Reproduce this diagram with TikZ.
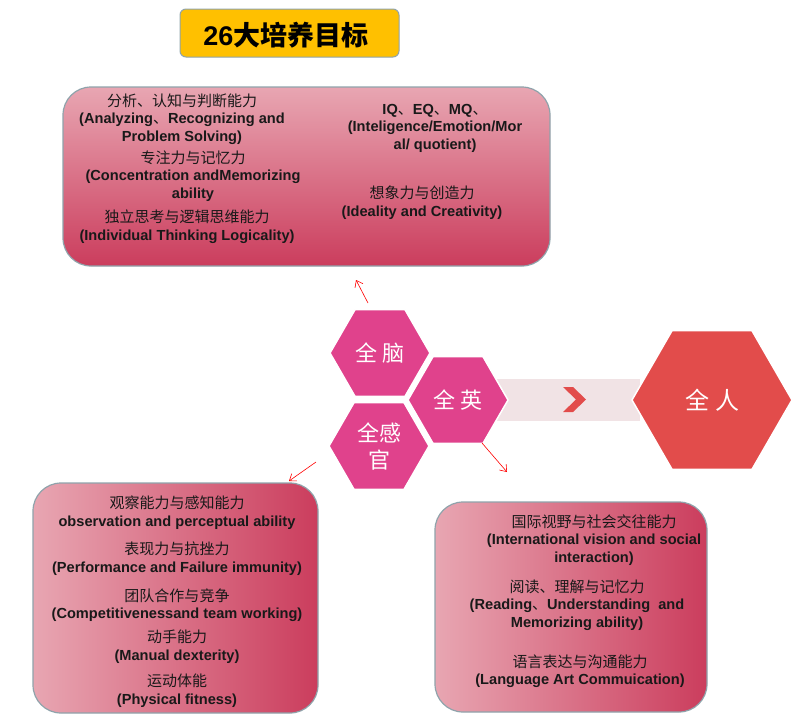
\documentclass[tikz,border=0pt]{standalone}
\usepackage{fontspec}
\setmainfont{Liberation Sans}
\newfontfamily\cjk{Noto Sans CJK SC}
\usetikzlibrary{shapes.geometric,arrows.meta}
\definecolor{hexpink}{HTML}{E0428C}
\definecolor{hexred}{HTML}{E24C4B}
\definecolor{bandpink}{HTML}{F1E3E5}
\definecolor{boxline}{HTML}{8FA3AB}
\definecolor{boxlight}{HTML}{E8A6B2}
\definecolor{boxdark}{HTML}{CB3D5D}
\definecolor{titleyellow}{HTML}{FFC000}
\newcommand\zh[1]{{\cjk\mdseries\fontsize{15}{17.5}\selectfont #1}}
\tikzset{
  goalbox/.style={draw=boxline, line width=1.2pt, rounded corners=28pt},
  goaltext/.style={align=center, inner sep=0pt, text=black!90,
    font=\bfseries\fontsize{14.6}{17.5}\selectfont},
  hexnode/.style={regular polygon, regular polygon sides=6, fill=hexpink,
    draw=white, line width=1.5pt, minimum size=100pt, inner sep=0pt,
    text=white, align=center, font=\cjk\fontsize{22}{27}\selectfont},
  linkarrow/.style={draw=red, line width=0.6pt, -{Straight Barb[length=6pt,width=9pt]}}
}
\begin{document}
\begin{tikzpicture}[x=1pt,y=-1pt]
  %%%%% START %%%%%
  \useasboundingbox (0,0) rectangle (798,721);

  % title
  \draw[fill=titleyellow, draw=boxline, line width=1pt, rounded corners=6pt] (180,9) rectangle (399,57);
  \node (title) at (286,35) {\fontsize{27}{30}\selectfont\bfseries 26{\cjk\bfseries 大培养目标}};

  % top box
  \draw[goalbox, top color=boxlight, bottom color=boxdark] (63,87) rectangle (550,266);
  \node[goaltext] (analyse) at (182,119) {\zh{分析、认知与判断能力}\\(Analyzing\zh{、}Recognizing and\\Problem Solving)};
  \node[goaltext] (focus) at (193,176) {\zh{专注力与记忆力}\\(Concentration andMemorizing\\ability};
  \node[goaltext] (think) at (187,226.5) {\zh{独立思考与逻辑思维能力}\\(Individual Thinking Logicality)};
  \node[goaltext] (quotient) at (435,128) {IQ\zh{、}EQ\zh{、}MQ\zh{、}\\(Inteligence/Emotion/Mor\\al/ quotient)};
  \node[goaltext] (create) at (422,202.5) {\zh{想象力与创造力}\\(Ideality and Creativity)};

  % bottom left box
  \draw[goalbox, left color=boxlight, right color=boxdark] (33,483) rectangle (318,713);
  \node[goaltext] (observe) at (177,512.5) {\zh{观察能力与感知能力}\\observation and perceptual ability};
  \node[goaltext] (perform) at (177,558.5) {\zh{表现力与抗挫力}\\(Performance and Failure immunity)};
  \node[goaltext] (team) at (177,605) {\zh{团队合作与竞争}\\(Competitivenessand team working)};
  \node[goaltext] (manual) at (177,646.5) {\zh{动手能力}\\(Manual dexterity)};
  \node[goaltext] (fitness) at (177,690.5) {\zh{运动体能}\\(Physical fitness)};

  % bottom right box
  \draw[goalbox, left color=boxlight, right color=boxdark] (435,502) rectangle (707,712);
  \node[goaltext] (vision) at (594,540) {\zh{国际视野与社会交往能力}\\(International vision and social\\interaction)};
  \node[goaltext] (reading) at (577,605) {\zh{阅读、理解与记忆力}\\(Reading\zh{、}Understanding~ and\\Memorizing ability)};
  \node[goaltext] (language) at (580,671) {\zh{语言表达与沟通能力}\\(Language Art Commuication)};

  % band and chevron
  \fill[bandpink] (490,379) rectangle (640,421);
  \fill[hexred] (563,387) -- (573,387) -- (586,399.5) -- (573,412) -- (563,412) -- (576,399.5) -- cycle;

  % hexagons
  \node[hexnode] (brain) at (380,353) {全\hspace{5pt}脑};
  \node[hexnode] (senses) at (379,446) {全感\\官};
  \node[hexnode] (elite) at (458,400) {全\hspace{5pt}英};
  \node[hexnode, fill=hexred, minimum size=160pt, font=\cjk\fontsize{24}{28}\selectfont] (whole) at (712,400) {全\hspace{6pt}人};

  % arrows
  \coordinate (brainfoot) at (368,303);
  \coordinate (brainhead) at (356,280);
  \coordinate (sensefoot) at (316,462);
  \coordinate (sensehead) at (289,481);
  \coordinate (elitefoot) at (482,443);
  \coordinate (elitehead) at (507,472);
  \draw[linkarrow] (brainfoot) -- (brainhead);
  \draw[linkarrow] (sensefoot) -- (sensehead);
  \draw[linkarrow] (elitefoot) -- (elitehead);
  %%%%% END %%%%%
\end{tikzpicture}
\end{document}
